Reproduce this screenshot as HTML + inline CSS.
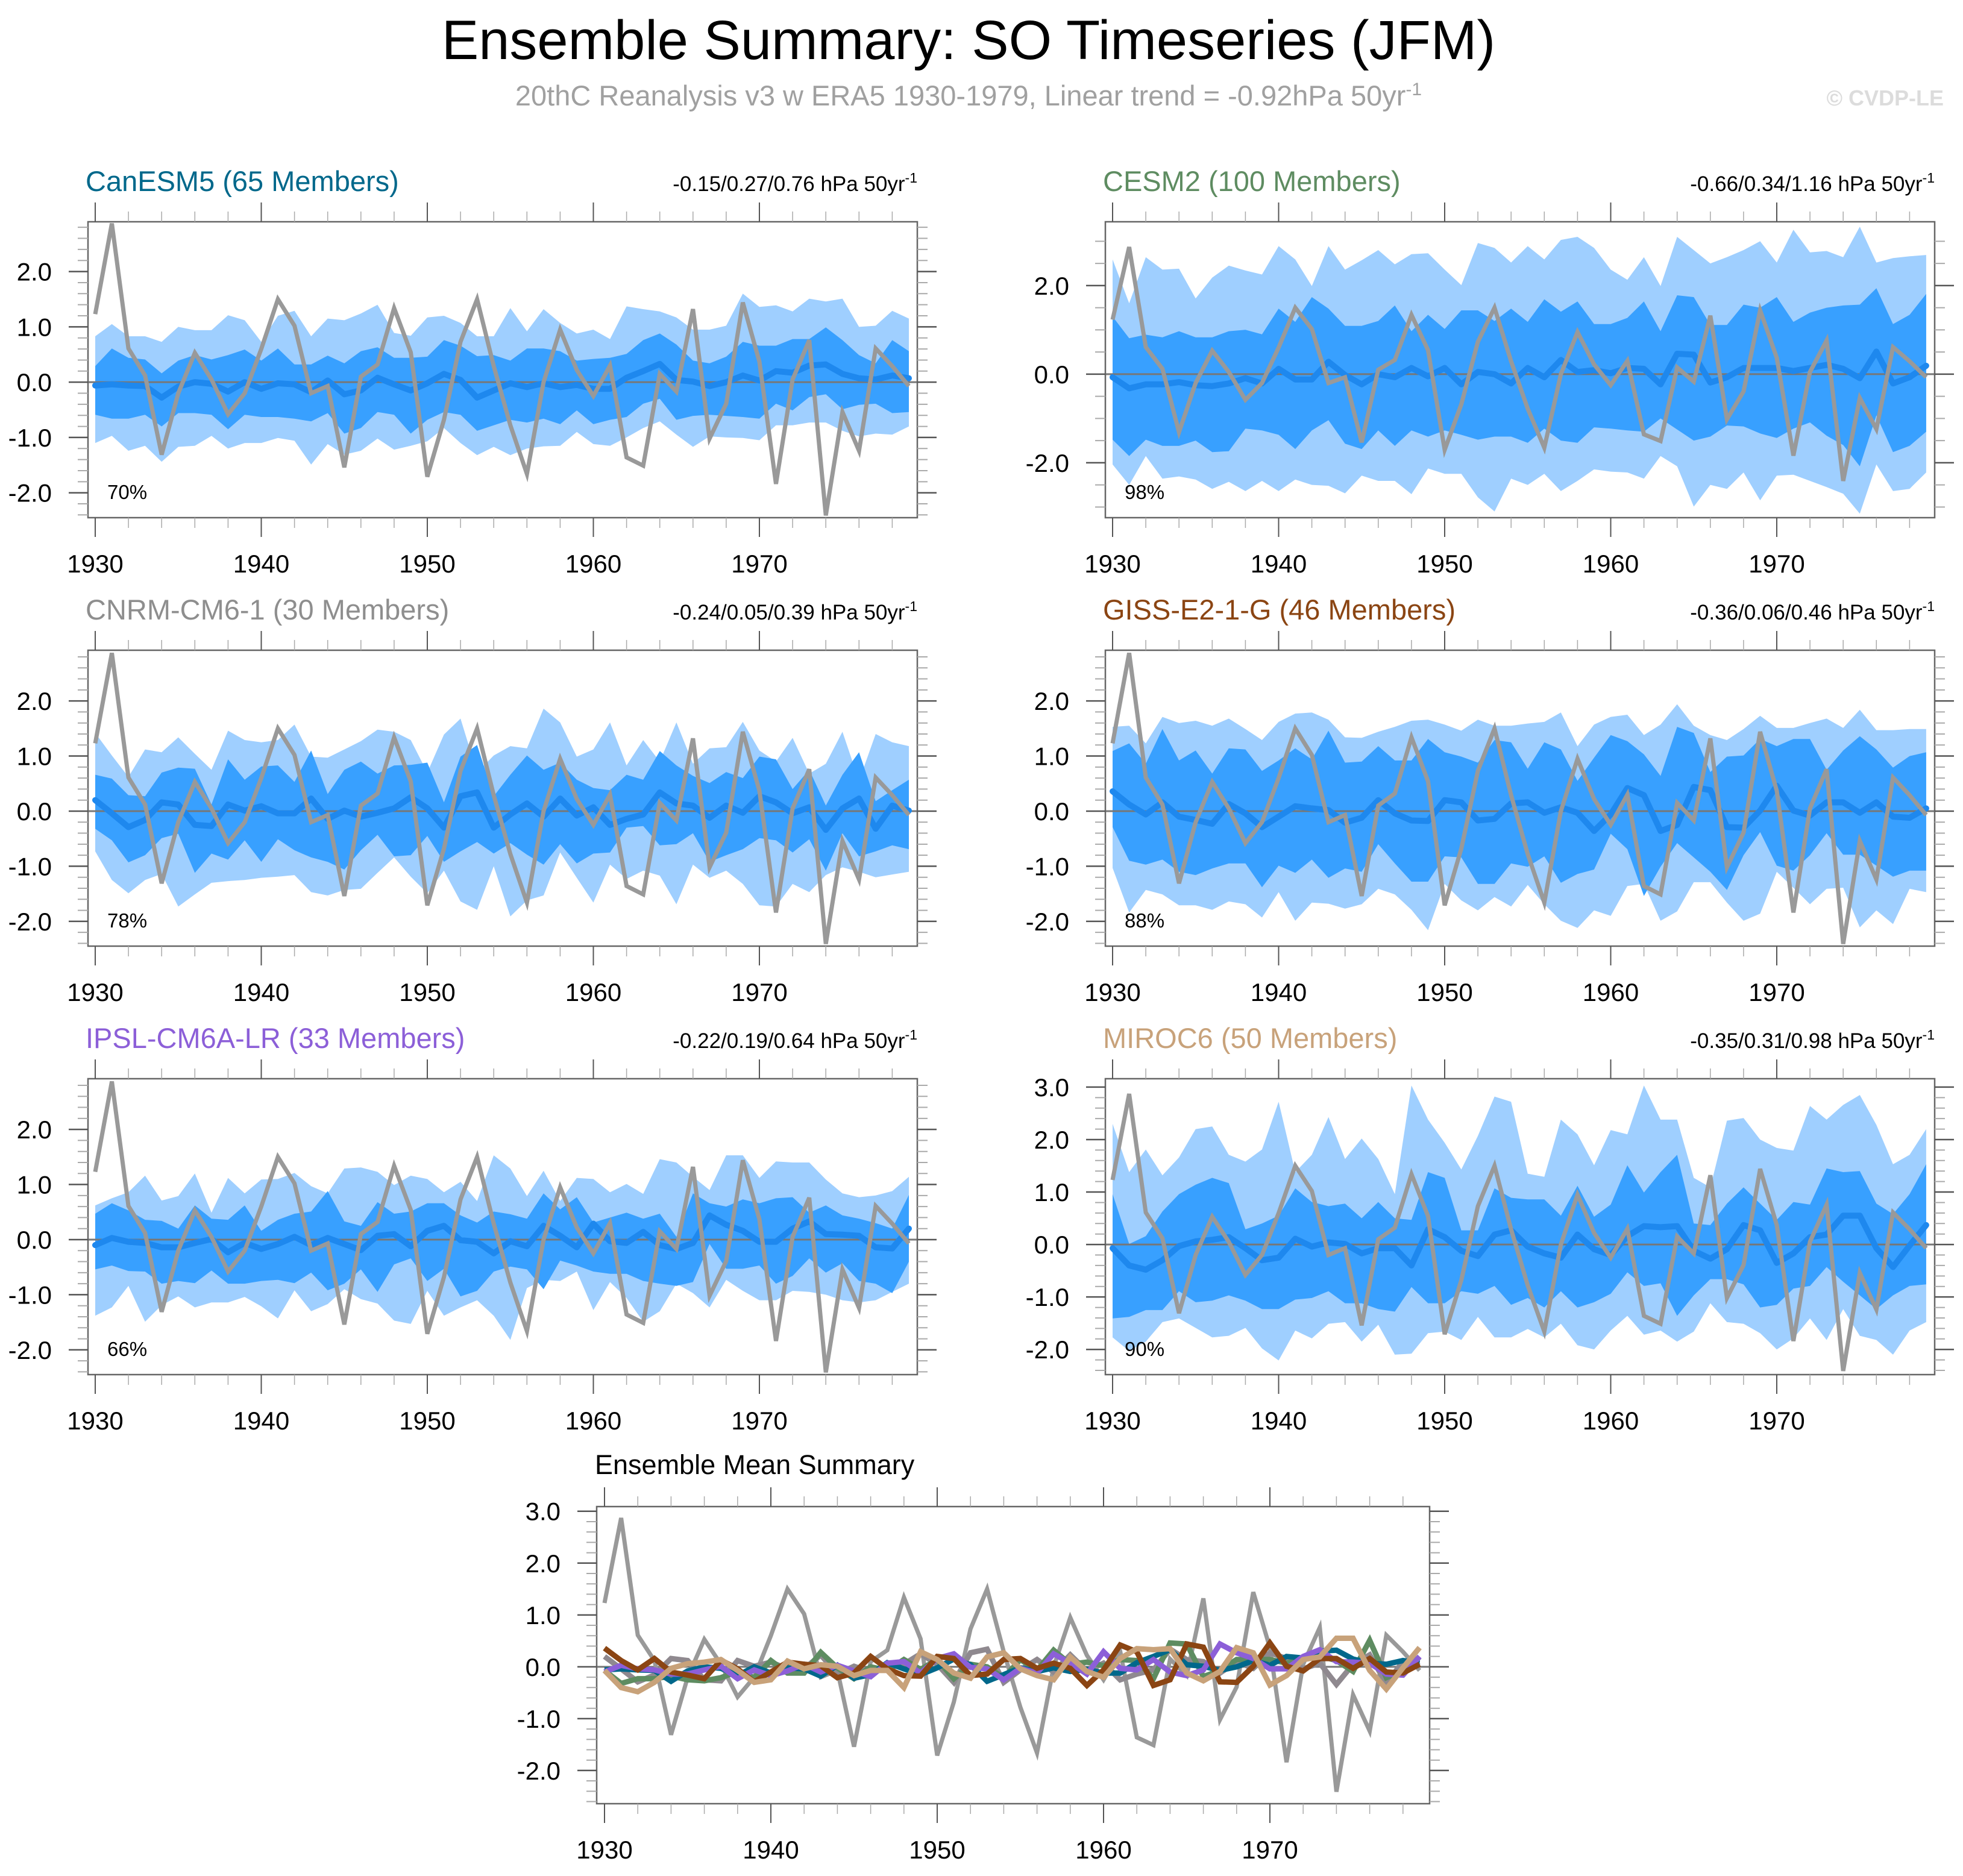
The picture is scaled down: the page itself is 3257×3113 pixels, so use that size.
<!DOCTYPE html>
<html><head><meta charset="utf-8"><title>Ensemble Summary: SO Timeseries (JFM)</title>
<style>
html,body{margin:0;padding:0;background:#fff;}
svg{display:block;font-family:"Liberation Sans",Arial,sans-serif;}
</style></head>
<body>
<svg id="chart" xmlns="http://www.w3.org/2000/svg" width="3257" height="3113" viewBox="0 0 3257 3113">
<rect width="3257" height="3113" fill="#fff"/>
<text x="1607" y="98" font-size="92" text-anchor="middle" fill="#000">Ensemble Summary: SO Timeseries (JFM)</text>
<text x="1607" y="175" font-size="47" text-anchor="middle" fill="#a0a0a0">20thC Reanalysis v3 w ERA5 1930-1979, Linear trend = -0.92hPa 50yr<tspan dy="-17" font-size="30">-1</tspan></text>
<text x="3225" y="175" font-size="36" font-weight="bold" text-anchor="end" fill="#dcdcdc">© CVDP-LE</text>
<g id="panels"></g>
</svg>
<script>
const years = [1930,1931,1932,1933,1934,1935,1936,1937,1938,1939,1940,1941,1942,1943,1944,1945,1946,1947,1948,1949,1950,1951,1952,1953,1954,1955,1956,1957,1958,1959,1960,1961,1962,1963,1964,1965,1966,1967,1968,1969,1970,1971,1972,1973,1974,1975,1976,1977,1978,1979];
const obs = [1.23,2.87,0.61,0.12,-1.31,-0.2,0.53,0.05,-0.58,-0.2, 0.6,1.5,1.02,-0.2,-0.07,-1.54,0.1,0.32,1.34,0.54, -1.71,-0.68,0.73,1.5,0.29,-0.78,-1.66,0.0,0.95,0.22, -0.25,0.3,-1.36,-1.51,0.15,-0.17,1.32,-1.02,-0.39,1.44, 0.37,-1.84,0.05,0.76,-2.41,-0.54,-1.24,0.61,0.29,-0.07];

const canMean = [-0.06,-0.04,-0.06,-0.07,-0.28,-0.08,0.0,-0.03,-0.17,0.0, -0.12,-0.02,-0.04,-0.18,0.03,-0.22,-0.15,0.08,-0.04,-0.15, -0.02,0.15,0.04,-0.28,-0.15,-0.02,-0.09,-0.02,-0.09,-0.05, -0.12,-0.12,0.08,0.2,0.33,0.04,0.01,-0.07,0.0,0.12, 0.03,0.2,0.17,0.3,0.32,0.15,0.07,0.05,0.12,0.07];
const canDarkHi = [0.29,0.61,0.44,0.41,0.16,0.39,0.49,0.41,0.49,0.59, 0.39,0.61,0.32,0.32,0.48,0.34,0.56,0.63,0.44,0.44, 0.46,0.76,0.66,0.47,0.49,0.39,0.61,0.61,0.56,0.39, 0.42,0.44,0.51,0.76,0.88,0.68,0.39,0.34,0.46,0.73, 0.66,0.66,0.78,0.78,0.99,0.76,0.49,0.34,0.76,0.56];
const canDarkLo = [-0.59,-0.66,-0.66,-0.59,-0.8,-0.56,-0.56,-0.59,-0.85,-0.59, -0.63,-0.63,-0.66,-0.71,-0.56,-0.93,-0.83,-0.54,-0.59,-0.93, -0.68,-0.54,-0.59,-0.88,-0.78,-0.68,-0.73,-0.66,-0.76,-0.51, -0.76,-0.68,-0.63,-0.39,-0.3,-0.68,-0.61,-0.59,-0.61,-0.63, -0.66,-0.39,-0.51,-0.27,-0.22,-0.49,-0.41,-0.39,-0.56,-0.54];
const canLightHi = [0.83,1.05,0.83,0.83,0.73,1.0,0.94,0.94,1.21,1.12, 0.73,1.2,1.29,0.83,1.15,1.12,1.24,1.4,0.89,0.84, 1.17,1.2,1.07,0.83,0.83,1.34,0.92,1.32,1.07,0.88, 0.95,0.78,1.37,1.32,1.28,1.17,0.95,0.95,1.02,1.6, 1.36,1.39,1.28,1.51,1.46,1.51,1.0,1.02,1.29,1.15];
const canLightLo = [-1.1,-0.97,-1.24,-1.15,-1.44,-1.17,-1.15,-0.97,-1.2,-1.1, -1.1,-1.01,-1.06,-1.49,-1.12,-1.31,-1.24,-1.02,-1.22,-1.15, -1.07,-0.83,-1.1,-1.32,-1.17,-1.32,-1.2,-1.16,-1.15,-0.9, -1.12,-1.15,-1.0,-0.83,-0.71,-0.95,-1.17,-0.98,-1.0,-1.01, -1.05,-0.78,-0.78,-0.73,-0.73,-0.88,-0.98,-0.93,-0.95,-0.8];

const cesmMean = [-0.07,-0.32,-0.23,-0.23,-0.18,-0.25,-0.27,-0.21,-0.09,-0.21, 0.12,-0.12,-0.12,0.28,-0.02,-0.23,0.0,-0.07,0.14,-0.05, 0.14,-0.23,0.05,0.0,-0.21,0.14,-0.07,0.32,0.05,0.09, 0.02,0.14,0.12,-0.23,0.46,0.44,-0.19,-0.07,0.14,0.14, 0.14,0.07,0.14,0.21,0.12,-0.09,0.51,-0.21,-0.07,0.19];
const cesmDarkHi = [1.3,0.81,0.89,0.83,0.97,0.83,0.83,0.97,1.0,0.9, 1.48,1.18,1.74,1.48,1.09,1.09,1.2,1.55,0.97,1.34, 1.02,1.44,1.44,1.2,1.48,1.18,1.69,1.41,1.64,1.13, 1.13,1.27,1.64,0.97,1.78,1.74,1.11,1.11,1.57,1.5, 1.74,1.18,1.39,1.5,1.55,1.57,1.94,1.13,1.34,1.81];
const cesmDarkLo = [-1.48,-1.85,-1.48,-1.62,-1.62,-1.5,-1.76,-1.74,-1.23,-1.27, -1.37,-1.69,-1.27,-1.04,-1.57,-1.69,-1.27,-1.62,-1.27,-1.41, -1.27,-1.37,-1.48,-1.41,-1.41,-1.55,-1.23,-1.5,-1.55,-1.2, -1.23,-1.27,-1.3,-1.0,-1.25,-1.5,-1.41,-1.16,-1.18,-1.34, -1.44,-1.23,-1.09,-1.39,-1.6,-2.08,-0.93,-1.76,-1.62,-1.3];
const cesmLightHi = [2.59,1.6,2.64,2.36,2.38,1.71,2.18,2.45,2.34,2.25, 2.89,2.59,1.99,2.89,2.36,2.57,2.8,2.48,2.71,2.73, 2.36,2.01,2.96,2.85,2.52,2.89,2.59,3.03,3.1,2.85, 2.36,2.13,2.64,1.99,3.1,2.8,2.5,2.64,2.8,3.0, 2.52,3.26,2.75,2.78,2.64,3.33,2.52,2.62,2.66,2.69];
const cesmLightLo = [-2.04,-2.5,-1.85,-2.36,-2.31,-2.38,-2.59,-2.43,-2.64,-2.41, -2.64,-2.38,-2.5,-2.52,-2.69,-2.29,-2.41,-2.41,-2.71,-2.13, -2.25,-2.25,-2.78,-3.1,-2.36,-2.5,-2.25,-2.64,-2.41,-2.15, -2.2,-2.22,-2.36,-1.85,-2.08,-2.99,-2.5,-2.59,-2.22,-2.85, -2.29,-2.27,-2.41,-2.55,-2.7,-3.15,-2.04,-2.64,-2.59,-2.22];

const cnrmMean = [0.2,-0.04,-0.29,-0.16,0.16,0.12,-0.25,-0.27,0.12,0.01, 0.09,-0.04,-0.04,0.23,-0.14,0.01,-0.1,-0.03,0.05,0.25, 0.05,-0.3,0.27,0.34,-0.3,-0.06,0.14,-0.1,0.23,-0.08, 0.07,-0.25,-0.14,-0.06,0.34,0.14,0.1,-0.12,0.1,-0.03, 0.27,0.16,-0.04,0.07,-0.34,0.05,0.23,-0.32,0.1,0.01];
const cnrmDarkHi = [0.66,0.59,0.29,0.27,0.7,0.79,0.77,0.12,0.94,0.57, 0.81,0.83,0.53,1.1,0.31,0.75,0.9,0.68,0.83,0.84, 0.88,0.16,0.99,1.2,0.27,0.66,1.01,0.75,0.88,0.57, 0.42,0.38,0.66,0.57,1.09,0.83,0.64,0.51,0.71,0.6, 0.99,0.94,0.4,0.75,0.1,0.66,1.07,0.18,0.38,0.57];
const cnrmDarkLo = [-0.32,-0.53,-0.93,-0.8,-0.49,-0.41,-1.12,-0.77,-0.88,-0.53, -0.92,-0.51,-0.71,-0.84,-0.92,-1.06,-0.71,-0.43,-0.82,-0.8, -0.45,-0.92,-0.73,-0.56,-0.77,-0.58,-0.79,-0.97,-0.6,-0.95, -0.77,-0.75,-0.3,-0.27,-0.62,-0.6,-0.4,-0.92,-0.8,-0.69, -0.49,-0.53,-0.75,-0.51,-1.08,-0.4,-0.82,-0.73,-0.62,-0.69];
const cnrmLightHi = [1.42,1.01,0.62,1.12,1.07,1.34,1.04,0.75,1.46,1.29, 1.25,1.29,1.57,0.99,0.97,1.12,1.27,1.48,1.44,1.29, 0.7,1.39,1.68,0.7,1.01,1.18,1.14,1.86,1.61,0.99, 1.12,1.61,0.83,1.29,0.9,1.61,0.86,1.14,1.16,1.62, 1.1,0.9,1.33,0.68,0.86,1.44,0.55,1.4,1.25,1.18];
const cnrmLightLo = [-0.73,-1.25,-1.49,-1.25,-1.14,-1.73,-1.51,-1.3,-1.27,-1.25, -1.21,-1.19,-1.16,-1.47,-1.53,-1.43,-1.41,-1.12,-0.84,-1.19, -1.49,-1.08,-1.64,-1.79,-1.0,-1.91,-1.62,-1.53,-0.75,-1.21, -1.66,-0.97,-1.23,-1.08,-1.17,-1.69,-0.97,-1.21,-1.08,-1.32, -1.71,-1.73,-1.32,-1.47,-1.16,-1.02,-1.1,-1.2,-1.15,-1.1];

const gissMean = [0.36,0.12,-0.06,0.16,-0.1,-0.16,-0.23,0.13,-0.04,-0.29, -0.1,0.09,0.05,0.02,-0.21,-0.12,0.2,-0.04,-0.17,-0.18, 0.2,0.16,-0.17,-0.14,0.14,0.16,-0.03,0.07,-0.03,-0.36, -0.06,0.42,0.29,-0.36,-0.25,0.44,0.38,-0.29,-0.3,0.01, 0.46,0.01,-0.08,0.16,0.16,-0.03,0.16,-0.1,-0.12,0.05];
const gissDarkHi = [1.09,1.23,0.86,1.49,0.92,1.1,0.68,1.14,1.12,0.73, 0.92,1.14,0.94,1.46,0.88,0.9,1.18,0.92,0.92,1.31, 1.07,0.99,0.88,1.29,1.25,0.77,1.25,1.12,0.55,0.97, 1.38,1.27,1.03,0.64,1.53,1.42,0.71,0.99,1.01,1.31, 1.18,1.31,1.31,0.75,1.1,1.36,1.12,0.79,1.0,1.07];
const gissDarkLo = [-0.29,-0.9,-0.97,-0.88,-1.1,-1.16,-1.04,-0.95,-0.95,-1.38, -0.99,-1.12,-0.88,-1.21,-1.04,-1.1,-0.6,-0.95,-1.28,-1.28, -0.82,-0.84,-1.32,-1.32,-0.95,-1.01,-0.82,-1.3,-1.14,-1.06, -0.41,-0.69,-1.54,-1.01,-0.58,-0.84,-1.1,-1.43,-0.8,-0.38, -0.99,-1.08,-0.8,-0.4,-0.79,-0.79,-0.99,-1.19,-1.08,-1.08];
const gissLightHi = [1.53,1.55,1.23,1.71,1.6,1.64,1.55,1.68,1.49,1.29, 1.62,1.77,1.79,1.66,1.34,1.33,1.44,1.53,1.64,1.66, 1.57,1.46,1.66,1.55,1.55,1.59,1.62,1.79,1.18,1.57, 1.71,1.75,1.38,1.57,1.94,1.55,1.38,1.29,1.49,1.73, 1.51,1.51,1.6,1.68,1.51,1.84,1.47,1.47,1.49,1.49];
const gissLightLo = [-1.03,-1.84,-1.43,-1.51,-1.71,-1.71,-1.79,-1.64,-1.69,-1.93, -1.47,-1.99,-1.66,-1.68,-1.77,-1.69,-1.41,-1.51,-1.79,-2.16, -1.32,-1.62,-1.8,-1.56,-1.73,-1.34,-1.69,-1.99,-2.12,-1.8, -1.9,-1.36,-1.32,-1.99,-1.82,-1.29,-1.29,-1.66,-1.99,-1.86, -1.1,-1.39,-1.69,-1.41,-1.39,-2.11,-1.8,-2.05,-1.41,-1.47];

const ipslMean = [-0.1,0.03,-0.04,-0.06,-0.14,-0.14,-0.06,0.01,-0.23,-0.06, -0.17,-0.08,0.05,-0.1,0.03,-0.08,-0.19,0.07,0.1,-0.12, 0.16,0.25,-0.01,-0.04,-0.25,-0.03,-0.12,0.25,0.07,-0.14, 0.29,-0.03,-0.06,0.14,-0.1,-0.17,-0.06,0.44,0.27,0.16, -0.04,-0.04,0.2,0.33,0.1,0.09,0.07,-0.14,-0.16,0.2];
const ipslDarkHi = [0.47,0.66,0.53,0.36,0.34,0.2,0.62,0.38,0.36,0.62, 0.16,0.36,0.47,0.51,0.88,0.33,0.25,0.68,0.47,0.51, 0.66,0.66,0.44,0.31,0.51,0.46,0.38,0.84,0.55,0.77, 0.31,0.4,0.49,0.38,0.47,0.05,0.84,0.66,0.6,0.73, 0.66,0.75,0.77,0.49,0.62,0.44,0.38,0.3,0.2,0.81];
const ipslDarkLo = [-0.54,-0.47,-0.57,-0.58,-0.8,-0.75,-0.79,-0.56,-0.8,-0.8, -0.75,-0.73,-0.79,-0.6,-0.92,-0.8,-0.54,-0.95,-0.45,-0.34, -0.75,-0.53,-1.03,-0.93,-0.58,-0.49,-0.54,-0.9,-0.38,-0.47, -0.58,-0.62,-0.62,-0.75,-0.8,-0.84,-0.77,-0.08,-0.53,-0.53, -0.47,-0.8,-0.66,-0.34,-0.6,-0.43,-0.75,-0.8,-0.97,-0.4];
const ipslLightHi = [0.62,0.75,0.86,1.16,0.71,0.79,1.2,0.49,1.12,0.84, 1.09,1.1,1.21,0.97,0.84,1.29,1.31,1.23,0.99,1.16, 1.1,0.86,1.05,0.7,1.53,1.29,0.79,1.25,0.7,1.12, 1.1,0.86,1.01,0.83,1.46,1.4,1.14,0.9,1.53,1.53, 1.12,1.42,1.4,1.4,1.09,0.84,0.77,0.8,0.88,1.14];
const ipslLightLo = [-1.38,-1.23,-0.84,-1.49,-1.19,-1.03,-1.23,-1.14,-1.14,-1.04, -1.21,-1.43,-0.92,-1.3,-1.17,-0.9,-1.08,-1.16,-1.47,-1.53, -0.93,-1.38,-1.23,-1.1,-1.38,-1.82,-0.88,-0.73,-0.75,-0.58, -1.28,-0.77,-1.06,-1.49,-1.3,-0.8,-0.97,-1.23,-0.73,-0.93, -1.1,-1.1,-0.93,-0.95,-1.0,-1.1,-1.14,-1.1,-0.95,-0.8];

const mirocMean = [-0.07,-0.4,-0.48,-0.3,-0.03,0.06,0.09,0.14,-0.07,-0.3, -0.25,0.11,-0.04,0.04,0.01,-0.17,-0.07,-0.07,-0.4,0.29, 0.14,-0.12,-0.22,0.19,0.27,-0.04,-0.17,-0.25,0.19,-0.09, -0.2,0.16,0.35,0.33,0.35,-0.12,-0.27,-0.09,0.37,0.27, -0.35,-0.17,0.14,0.19,0.55,0.55,-0.07,-0.43,-0.02,0.37];
const mirocDarkHi = [0.96,0.01,0.16,0.63,0.96,1.14,1.27,1.17,0.29,0.4, 0.55,1.07,0.81,0.73,0.78,0.5,0.81,0.5,0.47,1.38, 1.27,0.27,0.27,1.07,0.89,0.86,0.86,0.55,1.12,0.53, 0.76,1.51,0.99,1.38,1.71,0.4,0.37,0.78,1.09,0.78, 0.47,0.81,0.76,1.45,1.38,1.4,0.78,0.58,0.96,1.53];
const mirocDarkLo = [-1.41,-1.38,-1.25,-1.25,-0.89,-1.1,-1.07,-0.97,-1.07,-1.23, -1.23,-1.05,-1.02,-0.89,-1.12,-1.12,-1.23,-1.28,-0.81,-1.12, -1.12,-0.89,-0.94,-0.79,-1.15,-1.02,-1.2,-0.89,-1.2,-1.1, -0.94,-0.53,-0.79,-0.74,-1.36,-0.97,-0.66,-0.66,-0.76,-1.2, -1.15,-0.84,-0.79,-0.43,-0.71,-0.97,-1.23,-0.97,-0.79,-0.76];
const mirocLightHi = [2.3,1.38,1.81,1.32,1.66,2.2,2.25,1.71,1.58,1.81, 2.72,1.38,1.71,2.43,1.63,2.02,1.63,0.96,3.03,2.38, 1.94,1.43,2.07,2.82,2.72,1.35,1.29,2.38,2.1,1.51, 2.18,2.1,3.03,2.38,2.38,1.27,1.09,2.36,2.41,2.0, 1.84,1.79,2.64,2.38,2.66,2.85,2.28,1.53,1.71,2.2];
const mirocLightLo = [-1.77,-2.03,-1.85,-1.48,-1.41,-1.59,-1.77,-1.74,-1.59,-1.98, -2.21,-1.64,-1.79,-1.51,-1.48,-1.85,-1.53,-2.1,-2.08,-1.69, -1.66,-1.82,-1.38,-1.77,-1.77,-1.61,-1.77,-1.51,-1.92,-2.0, -1.64,-1.36,-1.72,-1.64,-1.85,-1.66,-1.12,-1.48,-1.51,-1.69, -2.0,-1.79,-1.41,-1.82,-1.23,-1.74,-1.82,-2.1,-1.64,-1.48];

const modelNames = ["CanESM5 (65 Members)","CESM2 (100 Members)","CNRM-CM6-1 (30 Members)","GISS-E2-1-G (46 Members)","IPSL-CM6A-LR (33 Members)","MIROC6 (50 Members)"];
const statLabels = ["-0.15/0.27/0.76 hPa 50yr","-0.66/0.34/1.16 hPa 50yr","-0.24/0.05/0.39 hPa 50yr","-0.36/0.06/0.46 hPa 50yr","-0.22/0.19/0.64 hPa 50yr","-0.35/0.31/0.98 hPa 50yr"];
const pctLabels = ["70%","98%","78%","88%","66%","90%"];
const yearTicks = [1930,1940,1950,1960,1970];

const NS = "http://www.w3.org/2000/svg";
const root = document.getElementById("panels");
const modelColors = ["#00688b","#5e8c61","#8e8e8e","#8b4513","#8c5fd8","#c8a27a"];
const bottomColors = ["#00688b","#5e8c61","#8f898f","#8b4513","#8c5fd8","#c8a27a"];
const panels = [
 {mean:canMean,dh:canDarkHi,dl:canDarkLo,lh:canLightHi,ll:canLightLo,ymin:-2.45,ymax:2.9,labels:[2,1,0,-1,-2],minor:0.2,slug:"canesm5"},
 {mean:cesmMean,dh:cesmDarkHi,dl:cesmDarkLo,lh:cesmLightHi,ll:cesmLightLo,ymin:-3.24,ymax:3.44,labels:[2,0,-2],minor:0.5,slug:"cesm2"},
 {mean:cnrmMean,dh:cnrmDarkHi,dl:cnrmDarkLo,lh:cnrmLightHi,ll:cnrmLightLo,ymin:-2.45,ymax:2.92,labels:[2,1,0,-1,-2],minor:0.2,slug:"cnrm"},
 {mean:gissMean,dh:gissDarkHi,dl:gissDarkLo,lh:gissLightHi,ll:gissLightLo,ymin:-2.45,ymax:2.92,labels:[2,1,0,-1,-2],minor:0.2,slug:"giss"},
 {mean:ipslMean,dh:ipslDarkHi,dl:ipslDarkLo,lh:ipslLightHi,ll:ipslLightLo,ymin:-2.45,ymax:2.92,labels:[2,1,0,-1,-2],minor:0.2,slug:"ipsl"},
 {mean:mirocMean,dh:mirocDarkHi,dl:mirocDarkLo,lh:mirocLightHi,ll:mirocLightLo,ymin:-2.48,ymax:3.16,labels:[3,2,1,0,-1,-2],minor:0.2,slug:"miroc6"}
];

function mk(tag, attrs, parent){
  const e = document.createElementNS(NS, tag);
  for (const k in attrs) e.setAttribute(k, attrs[k]);
  (parent||root).appendChild(e);
  return e;
}

function drawAxes(g, L, T, W, H, ymin, ymax, labels, minorStep, xs, ys, slug){
  for (let yr = 1930; yr <= 1979; yr += 2){
    const major = (yr % 10 === 0);
    const x = xs(yr);
    const len = major ? 32 : 17;
    const t1 = mk("line",{x1:x,y1:T,x2:x,y2:T-len,stroke:major?"#555":"#aaa","stroke-width":major?2:1.5},g);
    
    
    const t2 = mk("line",{x1:x,y1:T+H,x2:x,y2:T+H+len,stroke:major?"#555":"#aaa","stroke-width":major?2:1.5},g);
    
    
  }
  yearTicks.forEach(yr => {
    const t = mk("text",{x:xs(yr),y:T+H+91,"font-size":42,"text-anchor":"middle",fill:"#000"},g);
    t.textContent = String(yr);
    
    
  });
  const start = Math.ceil(ymin / minorStep - 1e-6) * minorStep;
  for (let v = start; v <= ymax + 1e-6; v += minorStep){
    const y = ys(v);
    const isMajor = labels.some(l => Math.abs(l - v) < 1e-6);
    const len = isMajor ? 32 : 17;
    const a = mk("line",{x1:L,y1:y,x2:L-len,y2:y,stroke:isMajor?"#555":"#aaa","stroke-width":isMajor?2.5:2},g);
    
    
    const b = mk("line",{x1:L+W,y1:y,x2:L+W+len,y2:y,stroke:isMajor?"#555":"#aaa","stroke-width":isMajor?2.5:2},g);
    
    
  }
  labels.forEach(v => {
    const t = mk("text",{x:L-60,y:ys(v)+15,"font-size":42,"text-anchor":"end",fill:"#000"},g);
    t.textContent = v.toFixed(1);
    
    
  });
}

function pts(arr, xs, ys){ return arr.map((v,i)=>xs(years[i]).toFixed(1)+","+ys(v).toFixed(1)); }

panels.forEach((p, idx) => {
  const col = idx % 2, row = Math.floor(idx / 2);
  const L = 146 + col*1688, T = 368 + row*711, W = 1376, H = 491;
  const xs = yr => L + 12 + (yr - 1930) * 27.55;
  const ys = v => T + (p.ymax - v) / (p.ymax - p.ymin) * H;
  const g = mk("g",{});
  
  

  const title = mk("text",{x:L-4,y:T-51,"font-size":47,fill:modelColors[idx]},g);
  title.textContent = modelNames[idx];
  
  

  const st = mk("text",{x:L+W,y:T-51,"font-size":35,"text-anchor":"end",fill:"#000"},g);
  st.textContent = statLabels[idx];
  const sup = mk("tspan",{dy:-14,"font-size":23},st);
  sup.textContent = "-1";
  
  

  const light = mk("polygon",{points:pts(p.lh,xs,ys).concat(pts(p.ll,xs,ys).reverse()).join(" "),fill:"#9fcfff"},g);
  
  
  const dark = mk("polygon",{points:pts(p.dh,xs,ys).concat(pts(p.dl,xs,ys).reverse()).join(" "),fill:"#38a0ff"},g);
  
  

  const zero = mk("line",{x1:L,y1:ys(0),x2:L+W,y2:ys(0),stroke:"#777","stroke-width":3},g);
  
  

  const meanLine = mk("polyline",{points:pts(p.mean,xs,ys).join(" "),fill:"none",stroke:"#1e88ee","stroke-width":10,"stroke-linejoin":"round","stroke-linecap":"round"},g);
  
  

  const obsLine = mk("polyline",{points:pts(obs,xs,ys).join(" "),fill:"none",stroke:"#999","stroke-width":7,"stroke-linejoin":"miter"},g);
  
  

  const box = mk("rect",{x:L,y:T,width:W,height:H,fill:"none",stroke:"#666","stroke-width":2.5},g);
  
  

  const pct = mk("text",{x:L+32,y:T+460,"font-size":33,fill:"#000"},g);
  pct.textContent = pctLabels[idx];
  
  

  drawAxes(g, L, T, W, H, p.ymin, p.ymax, p.labels, p.minor, xs, ys, p.slug);
});

(function(){
  const L = 990, T = 2500, W = 1382, H = 493, ymin = -2.64, ymax = 3.09;
  const xs = yr => L + 13 + (yr - 1930) * 27.6;
  const ys = v => T + (ymax - v) / (ymax - ymin) * H;
  const g = mk("g",{});
  
  
  const title = mk("text",{x:987,y:2446,"font-size":45,fill:"#000"},g);
  title.textContent = "Ensemble Mean Summary";
  
  
  const zero = mk("line",{x1:L,y1:ys(0),x2:L+W,y2:ys(0),stroke:"#777","stroke-width":3},g);
  
  
  const obsLine = mk("polyline",{points:pts(obs,xs,ys).join(" "),fill:"none",stroke:"#999","stroke-width":7},g);
  
  
  const order = [2,1,0,4,3,5];
  order.forEach(i => {
    const ln = mk("polyline",{points:pts(panels[i].mean,xs,ys).join(" "),fill:"none",stroke:bottomColors[i],"stroke-width":9,"stroke-linejoin":"miter"},g);
    
    
  });
  const box = mk("rect",{x:L,y:T,width:W,height:H,fill:"none",stroke:"#666","stroke-width":2.5},g);
  
  
  drawAxes(g, L, T, W, H, ymin, ymax, [3,2,1,0,-1,-2], 0.2, xs, ys, "summary");
})();
</script>
</body></html>
